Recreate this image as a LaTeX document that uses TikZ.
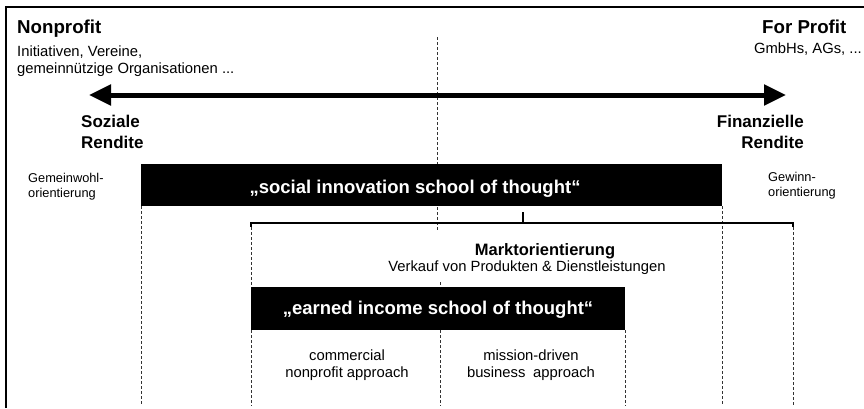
\documentclass[tikz,border=0pt]{standalone}
\usepackage{fontspec}
\setmainfont{Liberation Sans}
\usetikzlibrary{arrows.meta}
\begin{document}
\begin{tikzpicture}[x=1pt,y=-1pt,
  hdr/.style={font=\bfseries\fontsize{18.7}{22}\selectfont, inner sep=0},
  txt/.style={font=\fontsize{14.8}{17}\selectfont, inner sep=0},
  smalltxt/.style={font=\fontsize{12.8}{15}\selectfont, inner sep=0},
  rend/.style={font=\bfseries\fontsize{17}{21}\selectfont, inner sep=0},
  markt/.style={font=\bfseries\fontsize{16.5}{20}\selectfont, inner sep=0},
  blackbox/.style={fill=black, draw=none, inner sep=0, anchor=north west},
  boxtext/.style={text=white, font=\bfseries\fontsize{18.5}{22}\selectfont, inner sep=0},
  guide/.style={draw=black!80, dash pattern=on 3pt off 2pt, line width=1pt},
  bracket/.style={draw=black, line width=1.6pt},
  bigarrow/.style={line width=5pt, {Triangle[length=22pt,width=20pt]}-{Triangle[length=22pt,width=20pt]}},
]
\useasboundingbox (0,0) rectangle (864,408);
\fill[white] (0,0) rectangle (864,408);

% frame
\draw[line width=2.2pt] (6,408) -- (6,7) -- (864,7);

\coordinate (bot) at (0,406);

% central guide
\coordinate (ctop) at (437,37);
\coordinate (cmid) at (437,230);
\draw[guide] (ctop) -- (cmid);

% black boxes
\node[blackbox, minimum width=581pt, minimum height=42pt] (b1) at (141,164) {};
\node[blackbox, minimum width=374pt, minimum height=43pt] (b2) at (251,287) {};

\draw[guide] (b1.south west) -- (b1.south west |- bot);
\draw[guide] (b1.south east) -- (b1.south east |- bot);

% bracket
\coordinate (brL) at (251,223);
\coordinate (brR) at (793,223);
\coordinate (brC) at (523,223);
\coordinate (brT) at (523,212);
\draw[guide] ([yshift=-4pt]brL) -- (b2.north west);
\draw[guide] (b2.south west) -- (b2.south west |- bot);
\draw[guide] ([yshift=-4pt]brR) -- (brR |- bot);
\draw[bracket] ([yshift=-4pt]brL) -- (brL) -- (brR) -- ([yshift=-4pt]brR);
\draw[bracket] (brC) -- (brT);

\coordinate (tickA) at (440,282);
\coordinate (tickB) at (440,287);
\draw[guide] (tickA) -- (tickB);
\coordinate (b2mid) at (440,330);
\draw[guide] (b2mid) -- (b2mid |- bot);
\draw[guide] (b2.south east) -- (b2.south east |- bot);

% box texts
\node[boxtext, anchor=base] (t1) at (415,193) {„social innovation school of thought“};
\node[boxtext, anchor=base] (t2) at (438,314) {„earned income school of thought“};

% headers
\node[hdr, anchor=base west] (np) at (17,33) {Nonprofit};
\node[txt, anchor=base west] (np1) at (17,56) {Initiativen, Vereine,};
\node[txt, anchor=base west] (np2) at (17,73) {gemeinnützige Organisationen ...};

\node[hdr, anchor=base west] (fp) at (762,33) {For Profit};
\node[txt, anchor=base east] (fp1) at (862,53) {GmbHs, AGs, ...};

% arrow
\coordinate (al) at (89,95);
\coordinate (ar) at (786,95);
\draw[bigarrow] (al) -- (ar);

% Rendite labels
\node[rend, anchor=base west] (sr1) at (81,127) {Soziale};
\node[rend, anchor=base west] (sr2) at (81,148) {Rendite};
\node[rend, anchor=base east] (fr1) at (804,127) {Finanzielle};
\node[rend, anchor=base east] (fr2) at (804,148) {Rendite};

% orientation labels
\node[smalltxt, anchor=base west] (gw1) at (28,182) {Gemeinwohl-};
\node[smalltxt, anchor=base west] (gw2) at (28,197) {orientierung};
\node[smalltxt, anchor=base west] (gn1) at (768,181) {Gewinn-};
\node[smalltxt, anchor=base west] (gn2) at (768,196) {orientierung};

% Marktorientierung
\node[markt, anchor=base] (mo) at (545,255) {Marktorientierung};
\node[txt, anchor=base] (mo2) at (527,271) {Verkauf von Produkten \& Dienstleistungen};

% approaches
\node[txt, anchor=base] (c1) at (347,360) {commercial};
\node[txt, anchor=base] (c2) at (347,377) {nonprofit approach};
\node[txt, anchor=base] (m1) at (531,360) {mission-driven};
\node[txt, anchor=base] (m2) at (531,377) {business\hspace{0.25em} approach};
\end{tikzpicture}
\end{document}
